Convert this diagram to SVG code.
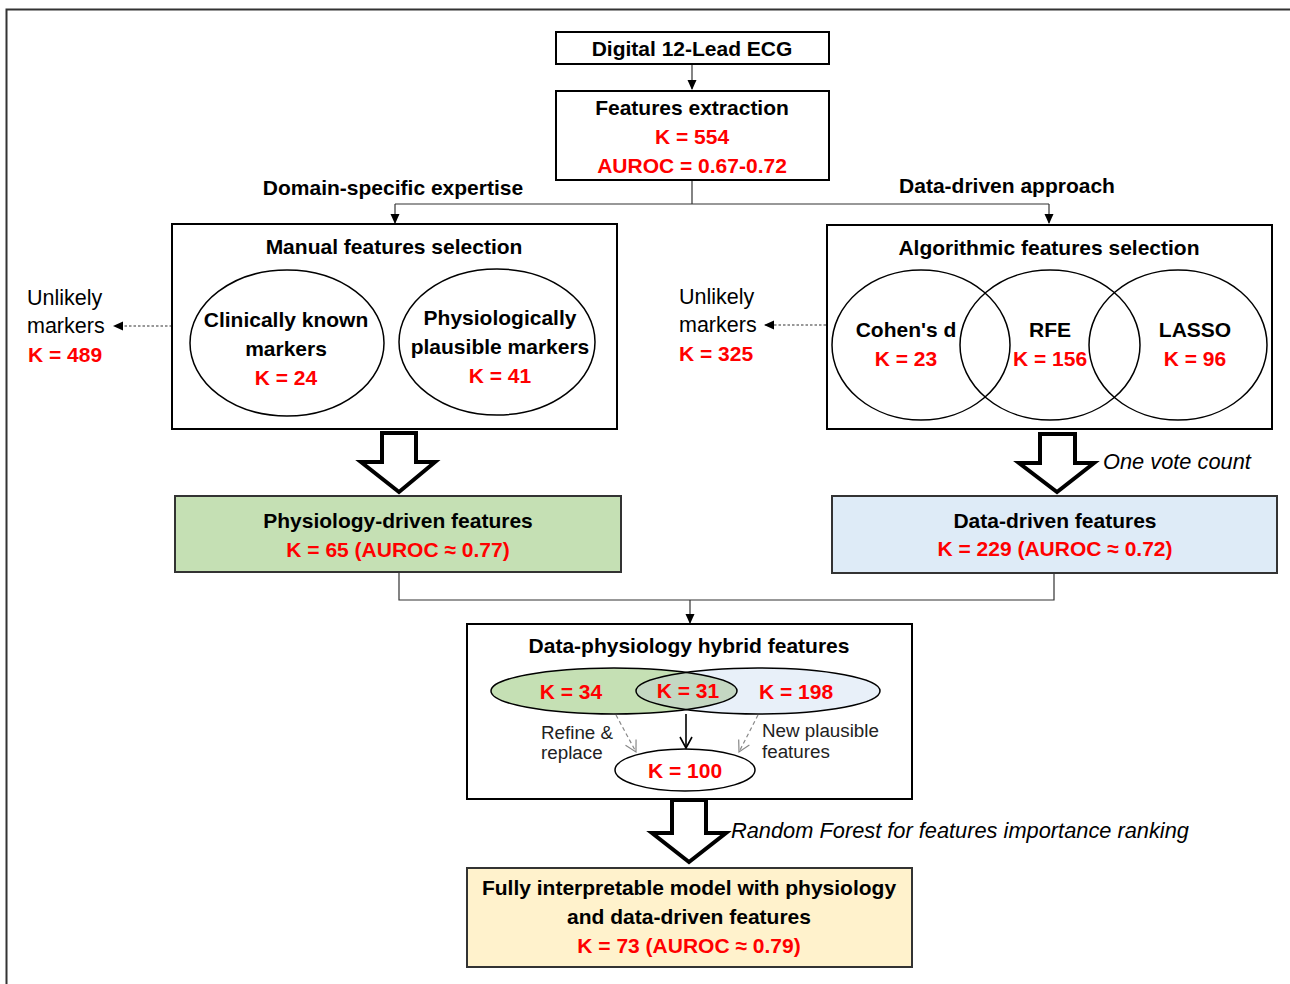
<svg xmlns="http://www.w3.org/2000/svg" width="1290" height="984" viewBox="0 0 1290 984">
<style>
.b{fill:#000;font-family:"Liberation Sans",Arial,sans-serif;font-weight:bold;font-size:21px;text-anchor:middle}
.r{fill:#ff0000;font-family:"Liberation Sans",Arial,sans-serif;font-weight:bold;font-size:21px;text-anchor:middle}
.n{fill:#000;font-family:"Liberation Sans",Arial,sans-serif;font-size:21.5px}
.s{fill:#222;font-family:"Liberation Sans",Arial,sans-serif;font-size:18.8px}
.i{fill:#000;font-family:"Liberation Sans",Arial,sans-serif;font-style:italic;font-size:21.8px}
.box{fill:#fff;stroke:#000;stroke-width:2}
.ell{fill:none;stroke:#000;stroke-width:1.5}
.ln{fill:none;stroke:#333;stroke-width:1.2}
.dot{fill:none;stroke:#333;stroke-width:1.2;stroke-dasharray:2.5 2}
.dash{fill:none;stroke:#888;stroke-width:1.2;stroke-dasharray:4 3}
.big{fill:#fff;stroke:#000;stroke-width:4;stroke-linejoin:miter}
</style>
<defs>
<marker id="ah" markerWidth="10" markerHeight="10" refX="9" refY="5" orient="auto" markerUnits="userSpaceOnUse">
<path d="M0,0.5 L10,5 L0,9.5 Z" fill="#000"/>
</marker>
<marker id="ov" markerWidth="14" markerHeight="14" refX="12" refY="7" orient="auto" markerUnits="userSpaceOnUse">
<path d="M1,1 L12,7 L1,13" fill="none" stroke="#000" stroke-width="1.6"/>
</marker>
<marker id="og" markerWidth="14" markerHeight="14" refX="12" refY="7" orient="auto" markerUnits="userSpaceOnUse">
<path d="M1,1 L12,7 L1,13" fill="none" stroke="#888" stroke-width="1.2"/>
</marker>
<clipPath id="cg"><ellipse cx="614" cy="691" rx="123" ry="23"/></clipPath>
</defs>
<rect width="1290" height="984" fill="#fff"/>
<path d="M6.5,984 V9.5 H1290" fill="none" stroke="#333" stroke-width="2"/>

<g id="connectors">
<path class="ln" d="M692,64 V89" marker-end="url(#ah)"/>
<path class="ln" d="M692,180 V204 M395,204 H1049"/>
<path class="ln" d="M395,204 V223" marker-end="url(#ah)"/>
<path class="ln" d="M1049,204 V223" marker-end="url(#ah)"/>
<path class="dot" d="M172,326 H114" marker-end="url(#ah)"/>
<path class="dot" d="M826,325 H765" marker-end="url(#ah)"/>
<path class="ln" d="M399,572 V600 H1054 V573"/>
<path class="ln" d="M690,600 V623" marker-end="url(#ah)"/>
<path class="big" d="M382,433 H416 V462 H435 L399,492 L361,462 H382 Z"/>
<path class="big" d="M1040,434 H1075 V463 H1094 L1057,492 L1019,463 H1040 Z"/>
<path class="big" d="M672,800 H706 V833 H726 L689,862 L652,833 H672 Z"/>
</g>

<g id="ecg">
<rect class="box" x="556" y="32" width="273" height="32"/>
<text class="b" x="692" y="56">Digital 12-Lead ECG</text>
</g>

<g id="extraction">
<rect class="box" x="556" y="91" width="273" height="89"/>
<text class="b" x="692" y="115">Features extraction</text>
<text class="r" x="692" y="144">K = 554</text>
<text class="r" x="692" y="173">AUROC = 0.67-0.72</text>
</g>

<g id="labels">
<text class="b" x="393" y="195">Domain-specific expertise</text>
<text class="b" x="1007" y="193">Data-driven approach</text>
</g>

<g id="manual">
<rect class="box" x="172" y="224" width="445" height="205"/>
<text class="b" x="394" y="254">Manual features selection</text>
<ellipse class="ell" cx="287" cy="343" rx="97" ry="73"/>
<ellipse class="ell" cx="497" cy="342" rx="98" ry="73"/>
<text class="b" x="286" y="327">Clinically known</text>
<text class="b" x="286" y="356">markers</text>
<text class="r" x="286" y="385">K = 24</text>
<text class="b" x="500" y="325">Physiologically</text>
<text class="b" x="500" y="354">plausible markers</text>
<text class="r" x="500" y="383">K = 41</text>
</g>

<g id="unlikely-left">
<text class="n" x="27" y="305">Unlikely</text>
<text class="n" x="27" y="333">markers</text>
<text class="r" x="65" y="362">K = 489</text>
</g>

<g id="algorithmic">
<rect class="box" x="827" y="225" width="445" height="204"/>
<text class="b" x="1049" y="255">Algorithmic features selection</text>
<ellipse class="ell" cx="921" cy="345" rx="89" ry="75"/>
<ellipse class="ell" cx="1050" cy="345" rx="90" ry="75"/>
<ellipse class="ell" cx="1178" cy="345" rx="89" ry="75"/>
<text class="b" x="906" y="337">Cohen's d</text>
<text class="r" x="906" y="366">K = 23</text>
<text class="b" x="1050" y="337">RFE</text>
<text class="r" x="1050" y="366">K = 156</text>
<text class="b" x="1195" y="337">LASSO</text>
<text class="r" x="1195" y="366">K = 96</text>
</g>

<g id="unlikely-right">
<text class="n" x="679" y="304">Unlikely</text>
<text class="n" x="679" y="332">markers</text>
<text class="r" x="716" y="361">K = 325</text>
</g>

<text class="i" x="1103" y="469">One vote count</text>

<g id="physiology">
<rect x="175" y="496" width="446" height="76" fill="#c5e0b4" stroke="#333" stroke-width="2"/>
<text class="b" x="398" y="528">Physiology-driven features</text>
<text class="r" x="398" y="557">K = 65 (AUROC ≈ 0.77)</text>
</g>

<g id="datadriven">
<rect x="832" y="496" width="445" height="77" fill="#deebf7" stroke="#333" stroke-width="2"/>
<text class="b" x="1055" y="528">Data-driven features</text>
<text class="r" x="1055" y="556">K = 229 (AUROC ≈ 0.72)</text>
</g>

<g id="hybrid">
<rect class="box" x="467" y="624" width="445" height="175"/>
<text class="b" x="689" y="653">Data-physiology hybrid features</text>
<ellipse cx="614" cy="691" rx="123" ry="23" fill="#c5e0b4"/>
<ellipse cx="758" cy="691" rx="122" ry="23" fill="#e8f0f9"/>
<ellipse cx="758" cy="691" rx="122" ry="23" fill="#c4d7c2" clip-path="url(#cg)"/>
<ellipse cx="614" cy="691" rx="123" ry="23" fill="none" stroke="#000" stroke-width="1.5"/>
<ellipse cx="758" cy="691" rx="122" ry="23" fill="none" stroke="#000" stroke-width="1.5"/>
<text class="r" x="571" y="699">K = 34</text>
<text class="r" x="688" y="698">K = 31</text>
<text class="r" x="796" y="699">K = 198</text>
<path d="M686,714 V748" fill="none" stroke="#000" stroke-width="1.6" marker-end="url(#ov)"/>
<path class="dash" d="M616,715 L636,752" marker-end="url(#og)"/>
<path class="dash" d="M758,715 L739,752" marker-end="url(#og)"/>
<text class="s" x="541" y="739">Refine &amp;</text>
<text class="s" x="541" y="759">replace</text>
<text class="s" x="762" y="737">New plausible</text>
<text class="s" x="762" y="758">features</text>
<ellipse class="ell" cx="685" cy="770" rx="70" ry="21" fill="#fff"/>
<text class="r" x="685" y="778">K = 100</text>
</g>

<text class="i" x="731" y="838">Random Forest for features importance ranking</text>

<g id="final">
<rect x="467" y="868" width="445" height="99" fill="#fff2cc" stroke="#333" stroke-width="2"/>
<text class="b" x="689" y="895">Fully interpretable model with physiology</text>
<text class="b" x="689" y="924">and data-driven features</text>
<text class="r" x="689" y="953">K = 73 (AUROC ≈ 0.79)</text>
</g>
</svg>
